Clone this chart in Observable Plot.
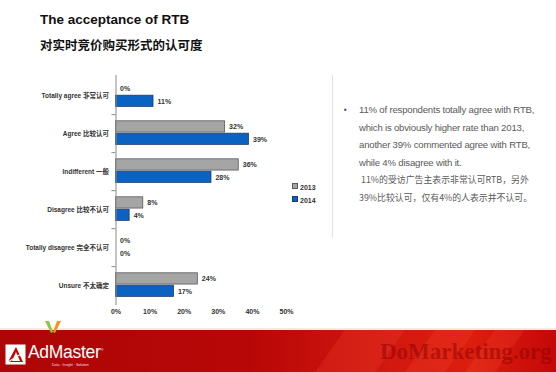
<!DOCTYPE html>
<html>
<head>
<meta charset="utf-8">
<script src="https://cdn.jsdelivr.net/npm/d3@7"></script>
<script src="https://cdn.jsdelivr.net/npm/@observablehq/plot@0.6"></script>
<style>
  html, body { margin: 0; padding: 0; background: #fff; }
  #page { position: relative; width: 556px; height: 372px; overflow: hidden; background: #fff;
          font-family: Arial, "Liberation Sans", "Noto Sans CJK SC", sans-serif; }
  #title { position: absolute; left: 40px; top: 12px; font-size: 13.5px; font-weight: bold; color: #111; white-space: nowrap; }
  #subtitle { position: absolute; left: 40px; top: 35px; font-size: 12.5px; font-weight: bold; color: #111; white-space: nowrap;
              font-family: "Noto Sans CJK SC", sans-serif; }
  #chart { position: absolute; left: 0; top: 0; }
  #legend { position: absolute; left: 292px; top: 183px; font-size: 7px; font-weight: bold; color: #333; }
  #legend .row { height: 12.5px; line-height: 10px; white-space: nowrap; }
  #legend .sw { display: inline-block; width: 4px; height: 4px; margin-right: 2px; vertical-align: 1px; }
  #panel { position: absolute; left: 332px; top: 75px; width: 1px; height: 163px; background: #e2e2e2; }
  #notes { position: absolute; left: 359px; top: 101px; font-size: 9.6px; line-height: 17.5px; color: #5a5a5a; white-space: nowrap; letter-spacing: -0.2px; }
  #notes .cn { font-family: "Noto Sans CJK SC", sans-serif; font-size: 8.9px; letter-spacing: 0; }
  #bullet { position: absolute; left: 344px; top: 101px; font-size: 8px; line-height: 17.5px; color: #2b3a8c; }
  #footer { position: absolute; left: 0; top: 330px; width: 556px; height: 42px;
            background: linear-gradient(90deg, #ad0606 0%, #b80707 45%, #d21810 70%, #dc1e0e 85%, #c40808 100%); overflow: hidden; }
  #topline { position: absolute; left: 0; top: 328px; width: 556px; height: 2px; background: #f7ecd9; }
  .stripe { position: absolute; top: 0; height: 42px; background: rgba(255,90,60,0.18); transform: skewX(-35deg); }
  #admaster { position: absolute; left: 28px; top: 342px; font-size: 17.5px; color: #fff; letter-spacing: -0.3px; }
  #tagline { position: absolute; left: 52px; top: 363px; font-size: 3.5px; color: #fde; }
  #watermark { position: absolute; left: 380px; top: 339px; font-family: "Liberation Serif", "DejaVu Serif", serif; font-weight: bold;
               font-size: 23px; color: rgba(140,0,0,0.5); letter-spacing: 0px; white-space: nowrap; }
</style>
</head>
<body>
<div id="page">
  <div id="title"></div>
  <div id="subtitle"></div>
  <div id="chart"></div>
  <div id="legend"></div>
  <div id="panel"></div>
  <div id="bullet">▪</div>
  <div id="notes"></div>
  <div id="topline"></div>
  <div id="footer">
    <div class="stripe" style="left:330px;width:60px;"></div>
    <div class="stripe" style="left:420px;width:40px;"></div>
    <div class="stripe" style="left:480px;width:30px;"></div>
  </div>
  <svg style="position:absolute;left:44px;top:320px" width="18" height="14">
    <polygon points="1,1 5,1 9,12 7,13" fill="#8dc63f"/>
    <polygon points="17,1 13,1 9,12 11,13" fill="#f7941d"/>
  </svg>
  <svg style="position:absolute;left:5px;top:344px" width="21" height="21">
    <rect x="0.5" y="0.5" width="20" height="20" fill="#fff"/>
    <polygon points="3,18 11,3 18,18" fill="#c00"/>
    <polygon points="7,17 11,8 15,17" fill="#fff"/>
    <line x1="3" y1="18" x2="16" y2="10" stroke="#fff" stroke-width="1.2"/>
  </svg>
  <div id="admaster">AdMaster<sup style="font-size:4px">®</sup></div>
  <div id="tagline">Data · Insight · Solution</div>
  <div id="watermark">DoMarketing.org</div>
</div>
<script>
// ---- data ----
const titleText = "The acceptance of RTB";
const subtitleText = "对实时竞价购买形式的认可度";
const categories = ["Totally agree 非常认可", "Agree 比较认可", "Indifferent 一般", "Disagree 比较不认可", "Totally disagree 完全不认可", "Unsure 不太确定"];
const years = ["2013", "2014"];
const values2013 = [0, 32, 36, 8, 0, 24];
const values2014 = [11, 39, 28, 4, 0, 17];
const xTicks = [0, 10, 20, 30, 40, 50];
const yearColors = ["#a5a5a5", "#0a63c2"];
const yearStrokes = ["#5a5a5a", "#1d3b6e"];
const notesEn = [
  "11% of respondents totally agree with RTB,",
  "which is obviously higher rate than 2013,",
  "another 39% commented agree with RTB,",
  "while 4% disagree with it."
];
const notesCn = [
  " 11%的受访广告主表示非常认可RTB，另外",
  "39%比较认可，仅有4%的人表示并不认可。"
];

document.getElementById("title").textContent = titleText;
document.getElementById("subtitle").textContent = subtitleText;

const rows = categories.flatMap((c, i) => [
  {category: c, year: years[0], value: values2013[i]},
  {category: c, year: years[1], value: values2014[i]}
]);
const r13 = rows.filter(d => d.year === years[0]);
const r14 = rows.filter(d => d.year === years[1]);

const W = 300, H = 330, mT = 75, mB = 25;
const band = (H - mT - mB) / categories.length;

const chart = Plot.plot({
  width: W,
  height: H,
  marginLeft: 115.5,
  marginRight: 14,
  marginTop: mT,
  marginBottom: mB,
  style: {fontFamily: "Arial, 'Liberation Sans', 'Noto Sans CJK SC', sans-serif", fontSize: "7px", fontWeight: "bold", color: "#333", background: "transparent"},
  x: {domain: [0, 50], ticks: xTicks, tickFormat: d => d + "%", label: null},
  y: {domain: categories, padding: 0, label: null},
  marks: [
    Plot.axisX({ticks: xTicks, tickFormat: d => d + "%", tickSize: 0, tickPadding: 4, fill: "#333", label: null}),
    Plot.axisY({tickSize: 0, tickPadding: 7, fill: "#333", label: null, fontSize: 6.5}),
    Plot.barX(r13, {filter: d => d.value > 0, x: "value", y: "category", fill: yearColors[0], stroke: yearStrokes[0], strokeWidth: 0.8,
      insetTop: 6.8, insetBottom: band - 18.4}),
    Plot.barX(r14, {filter: d => d.value > 0, x: "value", y: "category", fill: yearColors[1], stroke: yearStrokes[1], strokeWidth: 0.8,
      insetTop: 19.2, insetBottom: band - 30.7}),
    Plot.text(r13, {x: "value", y: "category", text: d => d.value + "%", textAnchor: "start", dx: 4, dy: -6.6, fill: "#333"}),
    Plot.text(r14, {x: "value", y: "category", text: d => d.value + "%", textAnchor: "start", dx: 4, dy: 5.8, fill: "#333"}),
    Plot.ruleX([0], {stroke: "#8a8a8a", strokeWidth: 1}),
    Plot.ruleY(categories.slice(0, -1), {y: d => d, x1: -1.2, x2: 0, dy: band / 2, stroke: "#8a8a8a"})
  ]
});
document.getElementById("chart").appendChild(chart);

// legend
const legend = document.getElementById("legend");
years.forEach((y, i) => {
  const row = document.createElement("div");
  row.className = "row";
  row.innerHTML = `<span class="sw" style="background:${yearColors[i]};border:0.5px solid ${yearStrokes[i]}"></span>${y}`;
  legend.appendChild(row);
});

// notes
const notes = document.getElementById("notes");
notesEn.forEach(t => { const d = document.createElement("div"); d.textContent = t; notes.appendChild(d); });
notesCn.forEach(t => { const d = document.createElement("div"); d.className = "cn"; d.textContent = t; d.style.whiteSpace = "pre"; notes.appendChild(d); });
</script>
</body>
</html>
